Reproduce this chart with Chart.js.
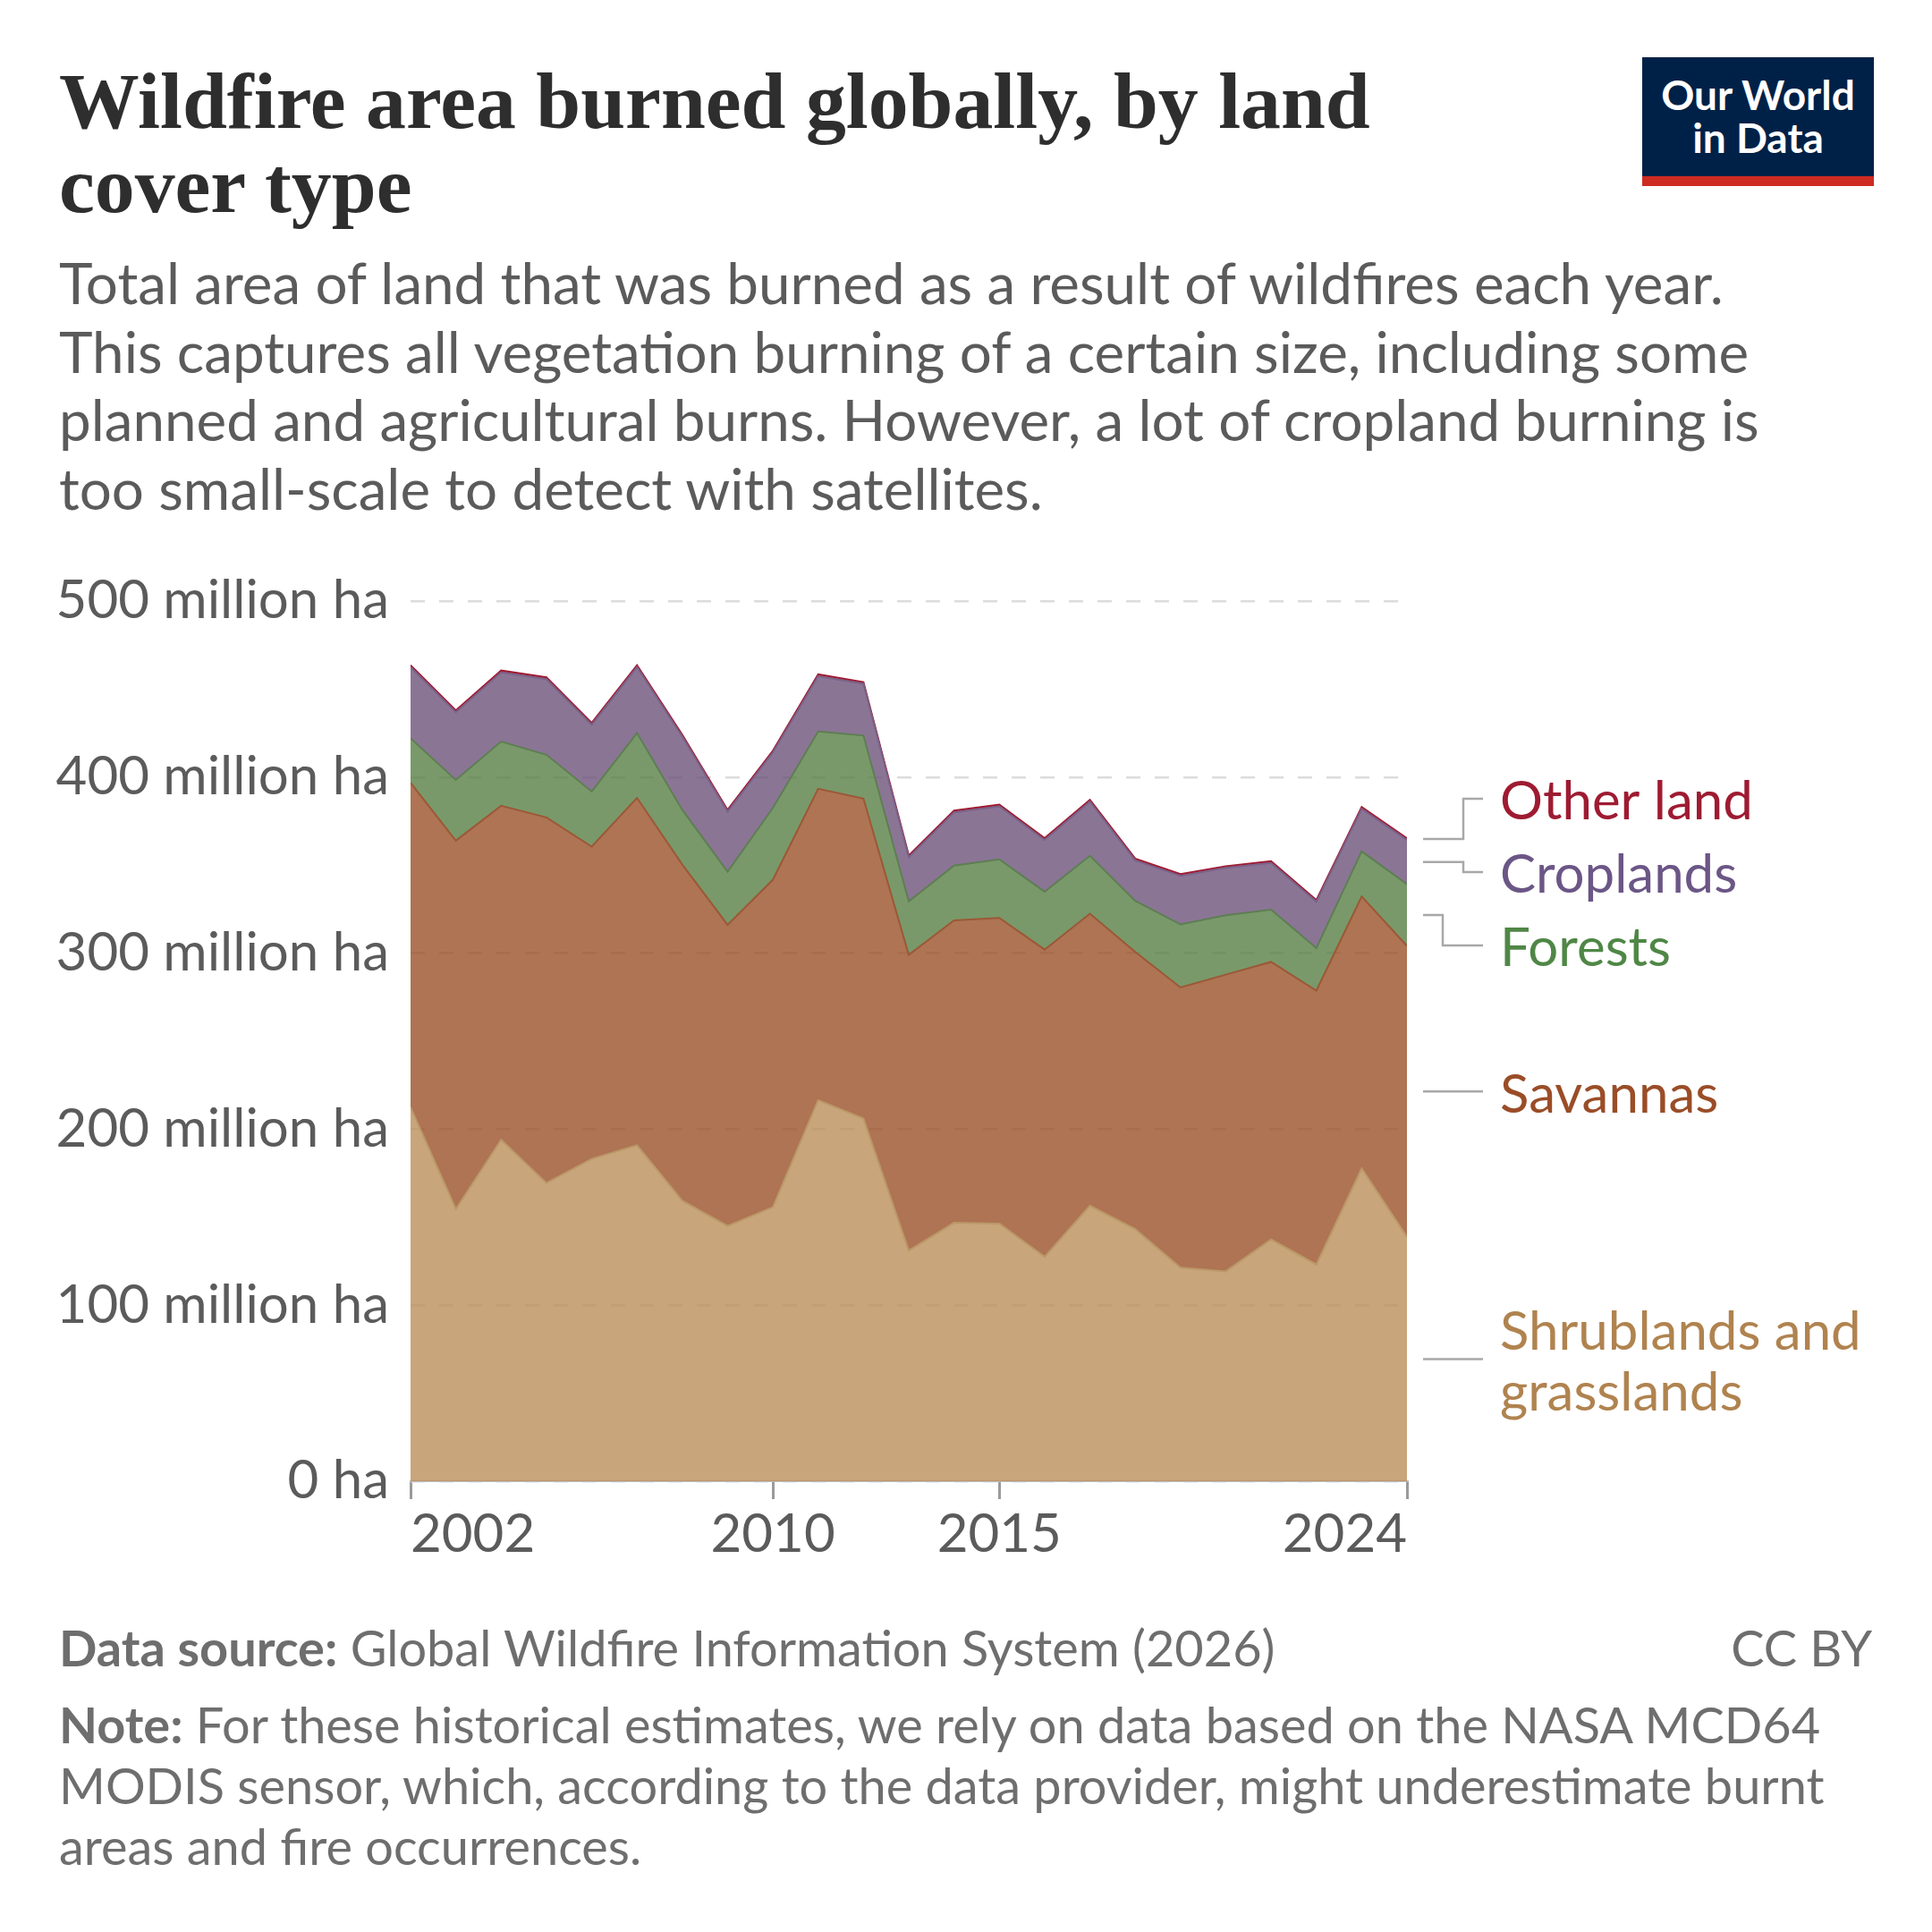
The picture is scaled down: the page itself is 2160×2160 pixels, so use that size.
<!DOCTYPE html>
<html>
<head>
<meta charset="utf-8">
<script src="https://cdn.jsdelivr.net/npm/chart.js@4.4.1/dist/chart.umd.min.js"></script>
<style>
  html, body { margin: 0; padding: 0; background: #fff; }
  body { width: 2160px; height: 2160px; position: relative; overflow: hidden; font-family: Lato, sans-serif; }
  .txt { position: absolute; white-space: nowrap; }
  #title { left: 66px; font-family: "Liberation Serif", serif; font-weight: 700; color: #2e2e2e; }
  #subtitle { left: 66px; color: #5b5b5b; }
  #source { left: 66px; color: #6e6e6e; }
  #license { right: 67px; color: #6e6e6e; }
  #note { left: 66px; color: #6e6e6e; }
  b { font-weight: 700; }
  #logo { position: absolute; left: 1836px; top: 64px; width: 259px; background: #002147;
          color: #fff; font-weight: 700; font-size: 46px; line-height: 48px; text-align: center;
          box-sizing: border-box; padding-top: 18px; border-bottom: 11px solid #ce2b22; height: 144px; }
  #chart { position: absolute; left: 0; top: 600px; }
</style>
</head>
<body>
<div id="title" class="txt">Wildfire area burned globally, by land<br>cover type</div>
<div id="subtitle" class="txt">Total area of land that was burned as a result of wildfires each year.<br>This captures all vegetation burning of a certain size, including some<br>planned and agricultural burns. However, a lot of cropland burning is<br>too small-scale to detect with satellites.</div>
<div id="logo">Our World<br>in Data</div>
<canvas id="chart" width="2160" height="1180"></canvas>
<div id="source" class="txt"><b>Data source:</b> Global Wildfire Information System (2026)</div>
<div id="license" class="txt">CC BY</div>
<div id="note" class="txt"><b>Note:</b> For these historical estimates, we rely on data based on the NASA MCD64<br>MODIS sensor, which, according to the data provider, might underestimate burnt<br>areas and fire occurrences.</div>

<script>
// data (million hectares)
const years = [2002, 2003, 2004, 2005, 2006, 2007, 2008, 2009, 2010, 2011, 2012, 2013,
               2014, 2015, 2016, 2017, 2018, 2019, 2020, 2021, 2022, 2023, 2024];
const shrublands = [212.5, 154.6, 194.0, 169.4, 183.1, 190.9, 159.3, 145.0, 155.7, 216.5, 206.0, 131.0,
                    146.8, 146.4, 127.5, 156.5, 143.2, 121.3, 119.2, 137.3, 123.1, 177.7, 138.8];
const savannas = [184.3, 209.3, 189.7, 207.7, 177.4, 197.3, 191.0, 171.1, 186.0, 176.9, 181.8, 168.0,
                  171.8, 173.6, 174.5, 165.9, 157.5, 159.2, 168.6, 157.7, 155.6, 154.5, 165.3];
const forests = [25.2, 34.5, 36.5, 35.6, 31.3, 36.8, 31.1, 30.2, 40.8, 32.5, 35.8, 30.4,
                 31.1, 33.3, 32.9, 32.9, 29.0, 35.8, 33.7, 29.7, 24.2, 25.6, 35.1];
const croplands = [40.5, 38.5, 39.3, 43.0, 38.0, 37.5, 41.6, 34.1, 31.5, 31.4, 29.4, 25.1,
                   30.3, 30.1, 29.4, 30.8, 23.0, 27.6, 26.9, 26.5, 26.3, 24.2, 25.1];
const otherLand = [1.0, 1.0, 1.1, 1.0, 1.0, 1.1, 1.0, 1.0, 1.0, 1.1, 1.0, 1.0,
                   1.0, 1.0, 1.0, 1.0, 1.0, 1.0, 1.0, 1.0, 1.0, 1.0, 1.0];
const xTicks = [2002, 2010, 2015, 2024];
const yTicks = [0, 100, 200, 300, 400, 500];

// --- text layout: fit sizes to the reference line widths, place by baseline
const mctx = document.createElement('canvas').getContext('2d');
function textW(font, s) { mctx.font = font; return mctx.measureText(s).width; }
function metrics(font) { mctx.font = font; const m = mctx.measureText('Hg'); return [m.fontBoundingBoxAscent, m.fontBoundingBoxDescent]; }
function place(id, weight, family, size, lineH, baseline) {
  const el = document.getElementById(id);
  const font = weight + ' ' + size + 'px ' + family;
  const [a, d] = metrics(font);
  el.style.fontSize = size + 'px';
  el.style.lineHeight = lineH + 'px';
  el.style.top = (baseline - ((lineH - a - d) / 2 + a)) + 'px';
}

const titleSize = 100 * 1466 / textW('700 100px "Liberation Serif"', 'Wildfire area burned globally, by land');
place('title', 700, '"Liberation Serif"', titleSize, 94, 143);

const subSize = 100 * 1868 / textW('400 100px Lato', 'Total area of land that was burned as a result of wildfires each year.');
place('subtitle', 400, 'Lato', subSize, 76.5, 341);

const srcSize = 100 * 1360 / (textW('700 100px Lato', 'Data source: ') + textW('400 100px Lato', 'Global Wildfire Information System (2026)'));
place('source', 400, 'Lato', srcSize, 67, 1863);
place('license', 400, 'Lato', srcSize, 67, 1863);
place('note', 400, 'Lato', srcSize, 68, 1949);

// --- chart
const pts = vals => years.map((yr, i) => ({ x: yr, y: vals[i] }));

const layers = [
  { name: 'Shrublands and grasslands', lines: ['Shrublands and', 'grasslands'], vals: shrublands,
    fill: 'rgba(186,143,89,0.8)', line: '#bb9868', text: '#b0834f' },
  { name: 'Savannas', lines: ['Savannas'], vals: savannas,
    fill: 'rgba(154,81,41,0.8)', line: '#9c5836', text: '#9a4d27' },
  { name: 'Forests', lines: ['Forests'], vals: forests,
    fill: 'rgba(89,128,69,0.8)', line: '#5d7f52', text: '#4f8746' },
  { name: 'Croplands', lines: ['Croplands'], vals: croplands,
    fill: 'rgba(110,83,123,0.8)', line: '#7a6289', text: '#6b5686' },
  { name: 'Other land', lines: ['Other land'], vals: otherLand,
    fill: 'rgba(162,19,45,0.8)', line: '#9e1b32', text: '#9e1b32' }
];

// elbow offset of the connector (px right of the plot)
const elbowOffset = { 'Other land': 63, 'Croplands': 63, 'Forests': 40 };

const endLabels = {
  id: 'endLabels',
  afterDraw(chart) {
    const { ctx, chartArea, scales: { y } } = chart;
    const last = years.length - 1;
    let cum = 0;
    const items = layers.map(l => {
      const lo = cum;
      cum += l.vals[last];
      const y0 = y.getPixelForValue((lo + cum) / 2);
      return { l, y0, y: y0, h: l.lines.length === 1 ? 82 : 150 };
    }).sort((a, b) => a.y0 - b.y0);

    // push overlapping labels apart around the mean of their targets
    let groups = items.map(it => ({ items: [it], h: it.h, c: it.y0 }));
    let merged = true;
    while (merged) {
      merged = false;
      for (let i = 0; i < groups.length - 1; i++) {
        const a = groups[i], b = groups[i + 1];
        if (a.c + a.h / 2 > b.c - b.h / 2) {
          const its = a.items.concat(b.items);
          groups.splice(i, 2, { items: its, h: a.h + b.h, c: its.reduce((s, it) => s + it.y0, 0) / its.length });
          merged = true;
          break;
        }
      }
    }
    groups.forEach(g => {
      let top = g.c - g.h / 2;
      g.items.forEach(it => { it.y = top + it.h / 2; top += it.h; });
    });

    const x1 = chartArea.right + 18, x2 = chartArea.right + 85, xt = chartArea.right + 104;
    ctx.save();
    ctx.strokeStyle = '#a8a8a8';
    ctx.lineWidth = 2.5;
    items.forEach(it => {
      ctx.beginPath();
      ctx.moveTo(x1, it.y0);
      if (Math.abs(it.y - it.y0) > 0.5) {
        const xe = chartArea.right + (elbowOffset[it.l.name] || 63);
        ctx.lineTo(xe, it.y0);
        ctx.lineTo(xe, it.y);
      }
      ctx.lineTo(x2, it.y);
      ctx.stroke();
      ctx.font = '400 60px Lato';
      ctx.textBaseline = 'middle';
      ctx.textAlign = 'left';
      ctx.fillStyle = it.l.text;
      const n = it.l.lines.length;
      it.l.lines.forEach((s, k) => ctx.fillText(s, xt, it.y + 4 + (k - (n - 1) / 2) * 68));
    });
    ctx.restore();
  }
};

new Chart(document.getElementById('chart'), {
  type: 'line',
  data: {
    datasets: layers.map((l, i) => ({
      label: l.name,
      data: pts(l.vals),
      fill: i === 0 ? 'origin' : '-1',
      backgroundColor: l.fill,
      borderColor: l.line,
      borderWidth: 2,
      pointRadius: 0,
      tension: 0
    }))
  },
  options: {
    responsive: false,
    animation: false,
    devicePixelRatio: 1,
    layout: { padding: { top: 72, right: 587, left: 0, bottom: 0 } },
    plugins: { legend: { display: false }, tooltip: { enabled: false } },
    scales: {
      x: {
        type: 'linear',
        min: 2002,
        max: 2024,
        afterBuildTicks: s => { s.ticks = xTicks.map(v => ({ value: v })); },
        afterFit: s => { s.height = 124; },
        ticks: {
          align: 'inner', padding: 4, maxRotation: 0, autoSkip: false,
          color: '#5b5b5b', font: { family: 'Lato', size: 60 },
          callback: v => String(v)
        },
        grid: { drawOnChartArea: false, drawTicks: true, tickLength: 20, color: '#9a9a9a', lineWidth: 3 },
        border: { display: true, color: '#bdbdbd', width: 2 }
      },
      y: {
        stacked: true,
        min: 0,
        max: 500,
        afterBuildTicks: s => { s.ticks = yTicks.map(v => ({ value: v })); },
        afterFit: s => { s.width = 459; },
        ticks: {
          padding: 24, color: '#5b5b5b', font: { family: 'Lato', size: 60 },
          callback: v => v === 0 ? '0 ha' : v + ' million ha'
        },
        grid: { color: '#dcdcdc', lineWidth: 2.5, drawTicks: false },
        border: { display: false, dash: [16, 16] }
      }
    }
  },
  plugins: [endLabels]
});
</script>
</body>
</html>
